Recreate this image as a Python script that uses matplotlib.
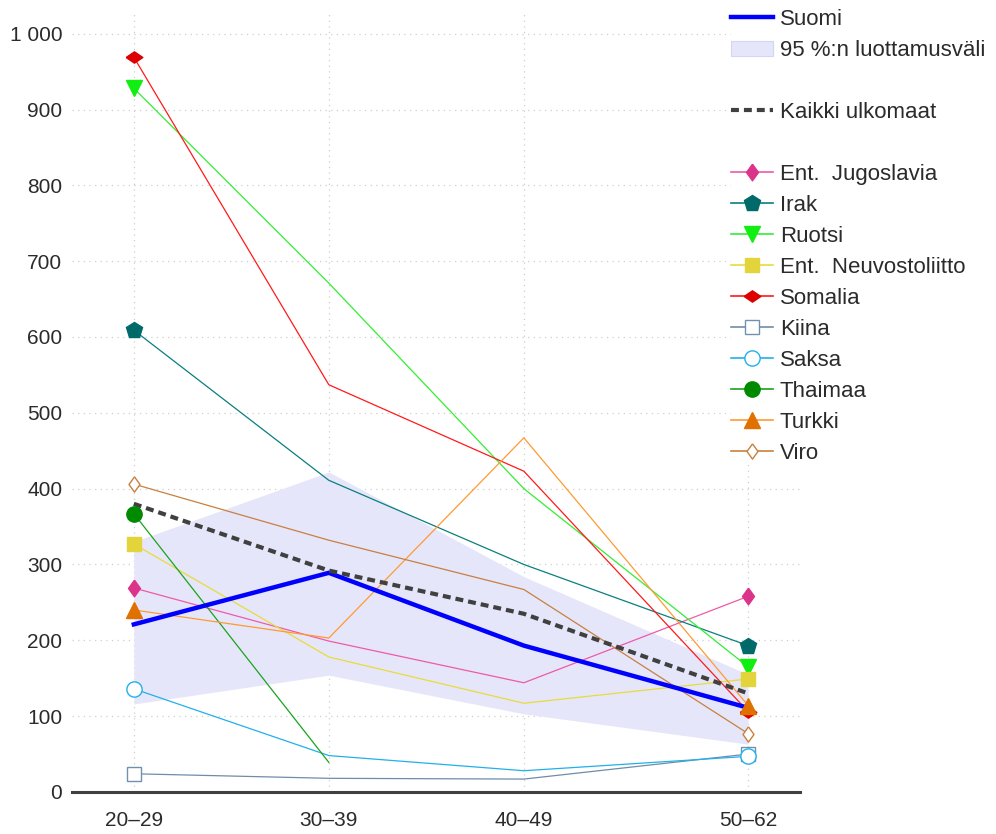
import numpy as np
import matplotlib
matplotlib.use("Agg")
import matplotlib.pyplot as plt
from matplotlib.lines import Line2D
from matplotlib.patches import Patch
from matplotlib.ticker import FuncFormatter

plt.rcParams['font.family'] = ['Liberation Sans', 'DejaVu Sans']

# ---- data ----
categories = ["20–29", "30–39", "40–49", "50–62"]
age_mid = [24.5, 34.5, 44.5, 56.0]

suomi = [221, 289, 193, 111]
ci_low = [116, 154, 103, 63]
ci_high = [330, 422, 284, 155]
kaikki = [380, 292, 235, 130]

countries = ["Ent.  Jugoslavia", "Irak", "Ruotsi", "Ent.  Neuvostoliitto", "Somalia",
             "Kiina", "Saksa", "Thaimaa", "Turkki", "Viro"]
jugoslavia = [269, 199, 144, 258]
irak = [609, 411, 300, 193]
ruotsi = [928, 671, 400, 165]
neuvostoliitto = [327, 178, 117, 149]
somalia = [969, 537, 423, 106]
kiina = [24, 18, 17, 50]
saksa = [136, 48, 28, 47]
thaimaa = [367, 39, np.nan, np.nan]
turkki = [240, 203, 467, 114]
viro = [406, 332, 267, 77]
country_values = [jugoslavia, irak, ruotsi, neuvostoliitto, somalia,
                  kiina, saksa, thaimaa, turkki, viro]

yticks = [0, 100, 200, 300, 400, 500, 600, 700, 800, 900, 1000]

# ---- styles ----
tall_diamond = [(0, 1), (0.72, 0), (0, -1), (-0.72, 0), (0, 1)]
wide_diamond = [(-1, 0), (0, 0.68), (1, 0), (0, -0.68), (-1, 0)]
styles = [
    dict(lc='#ef5aa8', marker=tall_diamond, mfc='#dc348a', mec='#dc348a', ms=12),
    dict(lc='#0a7f7f', marker='p', mfc='#006a6a', mec='#006a6a', ms=12),
    dict(lc='#33ee33', marker='v', mfc='#11ee11', mec='#11ee11', ms=11),
    dict(lc='#e8dc3a', marker='s', mfc='#e3d43c', mec='#e3d43c', ms=10),
    dict(lc='#ff1a1a', marker=wide_diamond, mfc='#dd0000', mec='#dd0000', ms=12),
    dict(lc='#6f8cab', marker='s', mfc='white', mec='#7090b0', ms=10),
    dict(lc='#22b0ea', marker='o', mfc='white', mec='#22b0ea', ms=11),
    dict(lc='#1aa31a', marker='o', mfc='#008a00', mec='#008a00', ms=11),
    dict(lc='#ff9a33', marker='^', mfc='#e07000', mec='#e07000', ms=11),
    dict(lc='#c8803f', marker=tall_diamond, mfc='white', mec='#c8803f', ms=11),
]

fig = plt.figure(figsize=(9.96, 8.34), dpi=100)
ax = fig.add_axes([0.0723, 0.0504, 0.7309, 0.9365])

x = np.array(age_mid)

ax.fill_between(x, ci_low, ci_high, color='#e6e6fa', lw=0, zorder=1)

for vals, st in zip(country_values, styles):
    v = np.array(vals, dtype=float)
    ax.plot(x, v, color=st['lc'], lw=0.9, zorder=2)
    idx = [i for i in (0, 3) if np.isfinite(v[i])]
    ax.plot(x[idx], v[idx], ls='none', marker=st['marker'], ms=st['ms'],
            mfc=st['mfc'], mec=st['mec'], mew=1.0, zorder=6)

ax.plot(x, suomi, color='#0000ff', lw=3.2, zorder=3, solid_joinstyle='miter')
ax.plot(x, kaikki, color='#404040', lw=3.0, dashes=(1.9, 1.2), zorder=4)

ax.set_xlim(21.33, 58.66)
ax.set_ylim(0, 1030)
ax.set_xticks(x)
ax.set_xticklabels(categories)
ax.set_yticks(yticks)
ax.yaxis.set_major_formatter(FuncFormatter(lambda v, p: f"{int(v):,}".replace(",", " ")))

for s in ['left', 'right', 'top']:
    ax.spines[s].set_visible(False)
ax.spines['bottom'].set_color('#404040')
ax.spines['bottom'].set_linewidth(2.2)
ax.spines['bottom'].set_zorder(7)

ax.tick_params(axis='both', length=0, labelsize=15, colors='#2b2b2b')
ax.tick_params(axis='x', pad=14)
ax.tick_params(axis='y', pad=7)
ax.grid(True, color='#cfcfcf', lw=0.9, linestyle=(0, (1, 3.5)), zorder=0)
ax.set_axisbelow(True)

# ---- legend ----
handles = [
    Line2D([], [], color='#0000ff', lw=3.2),
    Patch(facecolor='#e6e6fa', edgecolor='#d4d4f4', lw=0.8),
    Line2D([], [], color='none'),
    Line2D([], [], color='#404040', lw=3.0, dashes=(1.9, 1.2)),
    Line2D([], [], color='none'),
]
labels = ["Suomi", "95 %:n luottamusväli", " ", "Kaikki ulkomaat", " "]
for name, st in zip(countries, styles):
    handles.append(Line2D([], [], color=st['lc'], lw=1.2, marker=st['marker'], ms=st['ms'],
                          mfc=st['mfc'], mec=st['mec'], mew=1.0))
    labels.append(name)

leg = fig.legend(handles, labels, loc='upper left', bbox_to_anchor=(0.734, 0.989),
                 frameon=True, fancybox=False, framealpha=1.0, edgecolor='none',
                 facecolor='white', fontsize=16, handlelength=1.9, handletextpad=0.3,
                 labelspacing=0.45, borderpad=0.0, borderaxespad=0.0, numpoints=1)
for t in leg.get_texts():
    t.set_color('#2b2b2b')

fig.savefig("out.png", dpi=100)
